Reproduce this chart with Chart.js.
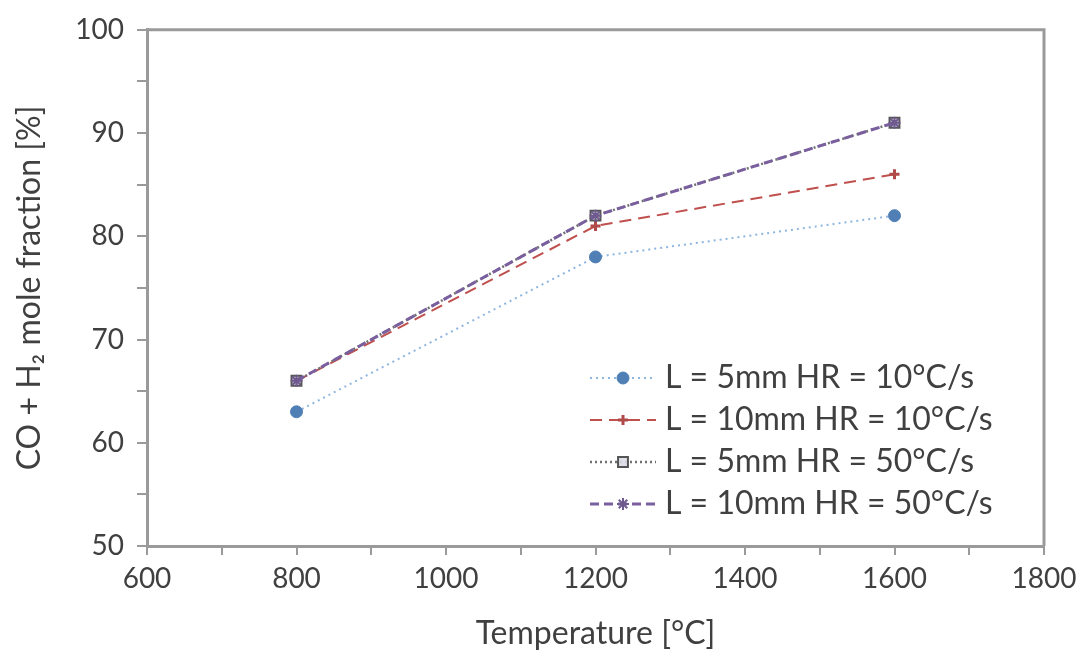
<!DOCTYPE html>
<html>
<head>
<meta charset="utf-8">
<script src="https://cdn.jsdelivr.net/npm/chart.js@4.4.0/dist/chart.umd.min.js"></script>
<style>
  html, body { margin: 0; padding: 0; background: #fff; }
  #wrap { width: 1089px; height: 653px; }
</style>
</head>
<body>
<div id="wrap"><canvas id="c" width="1089" height="653"></canvas></div>
<script>
// temperatures (°C) and CO + H2 mole fraction (%)
const temps = [800, 1200, 1600];
const l5hr10  = [63, 78, 82];
const l10hr10 = [66, 81, 86];
const l5hr50  = [66, 82, 91];
const l10hr50 = [66, 82, 91];

const seriesLabels = [
  'L = 5mm HR = 10°C/s',
  'L = 10mm HR = 10°C/s',
  'L = 5mm HR = 50°C/s',
  'L = 10mm HR = 50°C/s'
];

const xTicks = [600, 800, 1000, 1200, 1400, 1600, 1800];
const yTicks = [50, 60, 70, 80, 90, 100];

const FONT = 'Lato, "Open Sans", sans-serif';
const TXT = '#404040';
const AXIS = '#9a9a9a';

function pts(ys) {
  return temps.map((t, i) => ({ x: t, y: ys[i] }));
}

// box around plot area (top + right sides)
const frame = {
  id: 'frame',
  beforeDatasetsDraw(chart) {
    const { ctx, chartArea: a } = chart;
    ctx.save();
    ctx.strokeStyle = AXIS;
    ctx.lineWidth = 3;
    ctx.beginPath();
    ctx.moveTo(a.left, a.top);
    ctx.lineTo(a.right, a.top);
    ctx.lineTo(a.right, a.bottom);
    ctx.stroke();
    ctx.restore();
  }
};

// legend drawn inside the plot, line sample with marker in the middle
const innerLegend = {
  id: 'innerLegend',
  afterDatasetsDraw(chart) {
    const { ctx } = chart;
    const x0 = 590, x1 = 656, rowY = [378, 420, 462, 504];
    chart.data.datasets.forEach((ds, i) => {
      const y = rowY[i];
      ctx.save();
      ctx.strokeStyle = ds.borderColor;
      ctx.lineWidth = ds.borderWidth;
      ctx.setLineDash(ds.borderDash || []);
      ctx.beginPath();
      ctx.moveTo(x0, y);
      ctx.lineTo(x1, y);
      ctx.stroke();
      ctx.setLineDash([]);
      ctx.fillStyle = ds.pointBackgroundColor;
      ctx.strokeStyle = ds.pointBorderColor;
      ctx.lineWidth = ds.pointBorderWidth;
      Chart.helpers.drawPoint(ctx, {
        pointStyle: ds.pointStyle,
        radius: ds.pointRadius,
        rotation: 0,
        borderWidth: ds.pointBorderWidth
      }, (x0 + x1) / 2, y);
      ctx.fillStyle = TXT;
      ctx.font = '32px ' + FONT;
      ctx.textBaseline = 'middle';
      ctx.fillText(ds.label, 665, y);
      ctx.restore();
    });
  }
};

new Chart(document.getElementById('c'), {
  type: 'line',
  data: {
    datasets: [
      {
        label: seriesLabels[0],
        data: pts(l5hr10),
        borderColor: '#8fb6e0',
        borderWidth: 2,
        borderDash: [2, 4],
        pointStyle: 'circle',
        pointRadius: 6,
        pointBackgroundColor: '#4f7fb5',
        pointBorderColor: '#4f7fb5',
        pointBorderWidth: 1,
        order: 4
      },
      {
        label: seriesLabels[1],
        data: pts(l10hr10),
        borderColor: '#c0504d',
        borderWidth: 2,
        borderDash: [12, 7],
        pointStyle: 'cross',
        pointRadius: 5,
        pointBackgroundColor: '#b04a48',
        pointBorderColor: '#b04a48',
        pointBorderWidth: 3,
        order: 3
      },
      {
        label: seriesLabels[2],
        data: pts(l5hr50),
        borderColor: '#707070',
        borderWidth: 2.5,
        borderDash: [2, 3],
        pointStyle: 'rect',
        pointRadius: 7,
        pointBackgroundColor: 'rgba(220,220,230,0.9)',
        pointBorderColor: '#555555',
        pointBorderWidth: 2,
        order: 2
      },
      {
        label: seriesLabels[3],
        data: pts(l10hr50),
        borderColor: '#7a5f9e',
        borderWidth: 3,
        borderDash: [9, 5],
        pointStyle: 'star',
        pointRadius: 6,
        pointBackgroundColor: '#6f5a8f',
        pointBorderColor: '#6f5a8f',
        pointBorderWidth: 2,
        order: 1
      }
    ]
  },
  options: {
    responsive: false,
    animation: false,
    layout: { padding: { top: 27, right: 45, left: 0, bottom: 0 } },
    plugins: {
      legend: { display: false },
      tooltip: { enabled: false }
    },
    scales: {
      x: {
        type: 'linear',
        min: 600,
        max: 1800,
        afterFit(s) { s.height = 107; },
        afterBuildTicks(s) {
          s.ticks = [];
          for (let v = 600; v <= 1800; v += 100) s.ticks.push({ value: v });
        },
        border: { color: AXIS, width: 3 },
        grid: { drawOnChartArea: false, drawTicks: true, tickLength: 9, color: AXIS, lineWidth: 2 },
        ticks: {
          color: TXT,
          font: { family: FONT, size: 28 },
          padding: 7,
          maxRotation: 0,
          autoSkip: false,
          callback: v => (xTicks.includes(v) ? String(v) : '')
        },
        title: {
          display: true,
          text: 'Temperature [°C]',
          color: TXT,
          font: { family: FONT, size: 32 },
          padding: { top: 0, bottom: 0 }
        }
      },
      y: {
        min: 50,
        max: 100,
        afterFit(s) { s.width = 147; },
        afterBuildTicks(s) {
          s.ticks = [];
          for (let v = 50; v <= 100; v += 5) s.ticks.push({ value: v });
        },
        border: { color: AXIS, width: 3 },
        grid: { drawOnChartArea: false, drawTicks: true, tickLength: 10, color: AXIS, lineWidth: 2 },
        ticks: {
          color: TXT,
          font: { family: FONT, size: 28 },
          padding: 13,
          autoSkip: false,
          callback: v => (yTicks.includes(v) ? String(v) : '')
        },
        title: {
          display: true,
          text: 'CO + H₂ mole fraction [%]',
          color: TXT,
          font: { family: FONT, size: 32 },
          padding: { top: 10, bottom: 0 }
        }
      }
    }
  },
  plugins: [frame, innerLegend]
});
</script>
</body>
</html>
